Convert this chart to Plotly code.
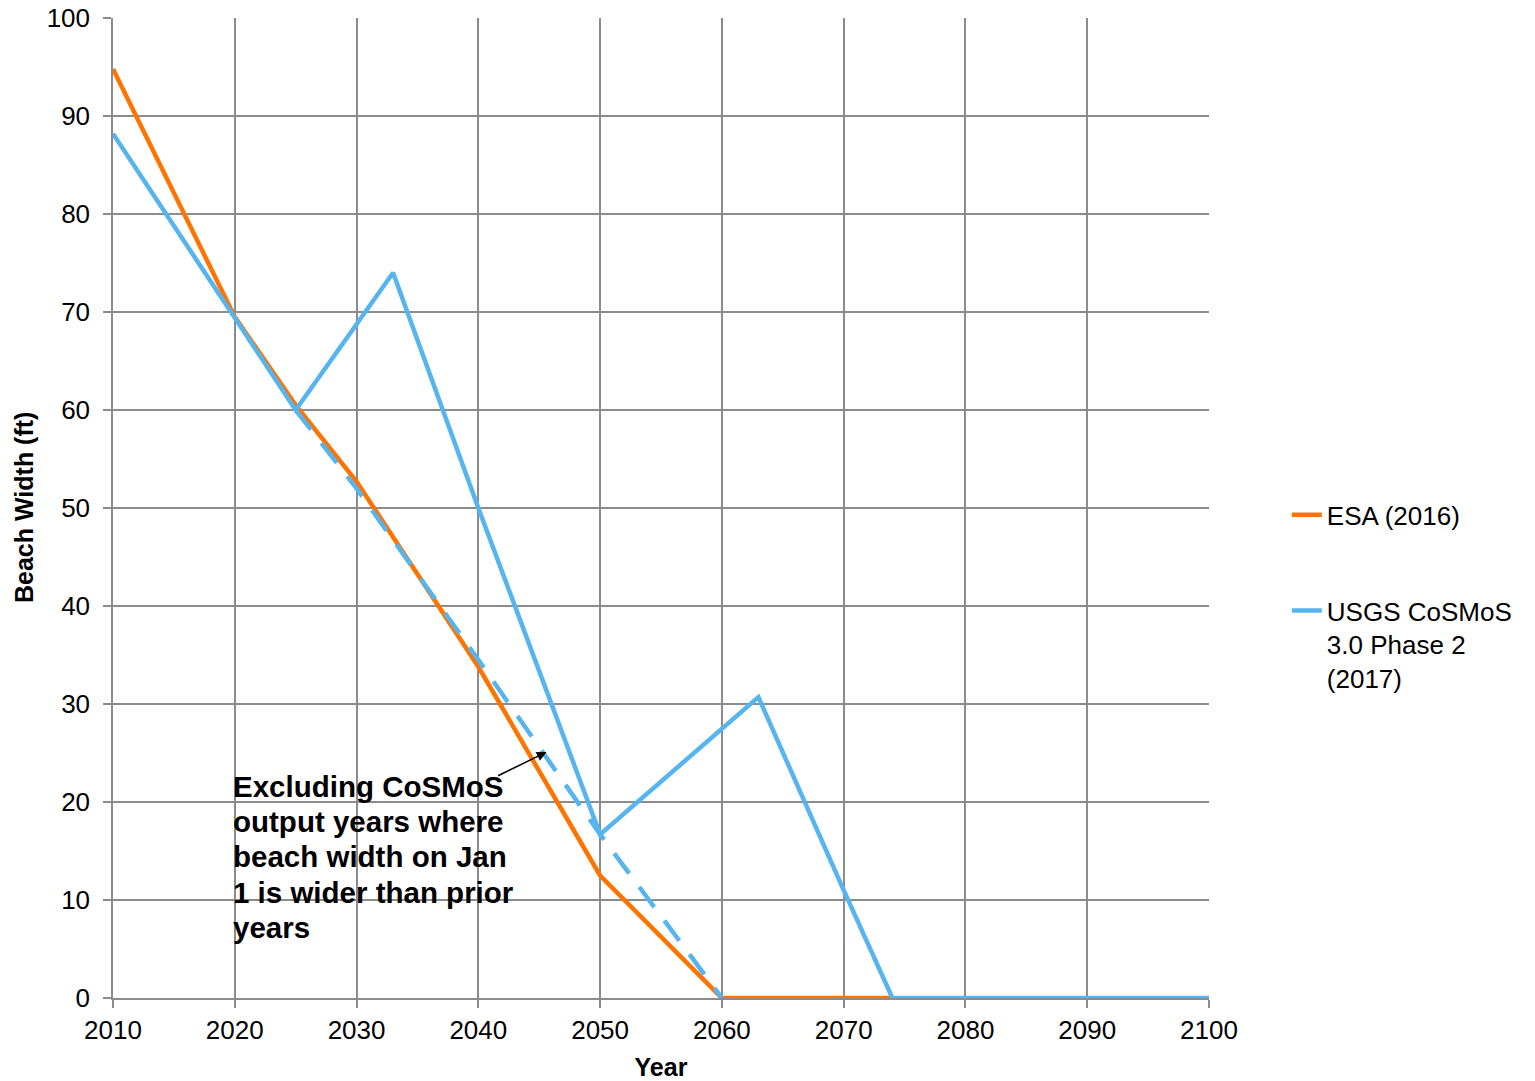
import plotly.graph_objects as go

# Data
esa_years = [2010, 2020, 2025, 2030, 2040, 2050, 2060, 2074]
esa_width = [94.8, 69.5, 60.5, 52.7, 33.8, 12.5, 0, 0]

usgs_years = [2010, 2020, 2025, 2033, 2040, 2050, 2063, 2070, 2074, 2080, 2090, 2100]
usgs_width = [88.2, 69.5, 60.0, 74.0, 50.0, 16.7, 30.7, 11.0, 0, 0, 0, 0]

excl_years = [2025, 2030, 2040, 2045.5, 2050, 2060]
excl_width = [60.0, 52.0, 34.5, 24.8, 16.7, 0]

note_lines = ["Excluding CoSMoS", "output years where", "beach width on Jan",
              "1 is wider than prior", "years"]

ORANGE = "#FF7300"
BLUE = "#56B4EF"
GRID = "#8C8C8C"
FONT = "Liberation Sans, Arial, sans-serif"

fig = go.Figure()
fig.add_trace(go.Scatter(x=esa_years, y=esa_width, mode="lines", name="ESA (2016)",
                         line=dict(color=ORANGE, width=4.5), legendgroup="a"))
fig.add_trace(go.Scatter(x=excl_years, y=excl_width, mode="lines", showlegend=False,
                         line=dict(color=BLUE, width=4.5, dash="25px,17px"), legendgroup="c"))
fig.add_trace(go.Scatter(x=usgs_years, y=usgs_width, mode="lines",
                         name="USGS CoSMoS<br>3.0 Phase 2<br>(2017)",
                         line=dict(color=BLUE, width=4.5), legendgroup="b"))

# multi-line bold note (one text per line to match line spacing)
for i, t in enumerate(note_lines):
    fig.add_annotation(x=2019.67, y=21.6 - i * 3.6, xref="x", yref="y",
                       xanchor="left", yanchor="middle", align="left", showarrow=False,
                       text="<b>" + t + "</b>",
                       font=dict(family=FONT, size=29.5, color="black"))
fig.add_annotation(x=2045.6, y=25.1, ax=2041.5, ay=22.6, xref="x", yref="y",
                   axref="x", ayref="y", text="", showarrow=True,
                   arrowhead=2, arrowsize=1.3, arrowwidth=1.5, arrowcolor="black", standoff=0)

# y-axis title
fig.add_annotation(x=-0.0812, y=0.5, xref="paper", yref="paper", xanchor="center",
                   yanchor="middle", textangle=-90, showarrow=False,
                   text="<b>Beach Width (ft)</b>", font=dict(family=FONT, size=25, color="black"))

fig.update_layout(
    width=1535, height=1081,
    margin=dict(l=113, r=326, t=18, b=83, autoexpand=False),
    paper_bgcolor="white", plot_bgcolor="white",
    font=dict(family=FONT, size=26, color="black"),
    showlegend=True,
    legend=dict(x=1.071, y=0.517, xanchor="left", yanchor="top", valign="top",
                tracegroupgap=59, font=dict(size=26), bgcolor="rgba(0,0,0,0)"),
    xaxis=dict(range=[2010, 2100], tickmode="linear", tick0=2010, dtick=10,
               showgrid=True, gridcolor=GRID, gridwidth=1.5,
               showline=True, linecolor=GRID, linewidth=1.5,
               ticks="outside", ticklen=8, tickcolor=GRID, tickwidth=1.5,
               zeroline=False, automargin=False, ticklabeloverflow="allow",
               title=dict(text="<b>Year</b>", font=dict(size=25), standoff=20)),
    yaxis=dict(range=[0, 100], tickmode="linear", tick0=0, dtick=10,
               showgrid=True, gridcolor=GRID, gridwidth=1.5,
               showline=True, linecolor=GRID, linewidth=1.5,
               ticks="outside", ticklen=8, tickcolor=GRID, tickwidth=1.5,
               zeroline=False, automargin=False, ticklabeloverflow="allow",
               ticklabelstandoff=8),
)

fig.write_html("out.html", config={"displayModeBar": False},
               post_script="document.body.style.margin='0px';")
